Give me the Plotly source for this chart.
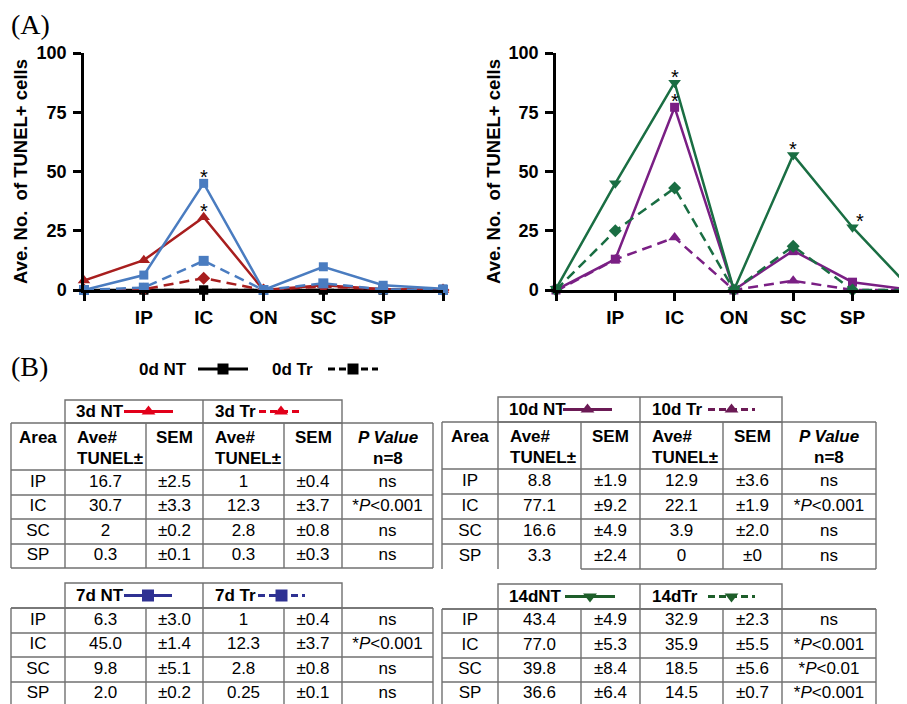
import plotly.graph_objects as go

W, H = 907, 704
OFF = 8  # page offset of the figure inside the browser window
SANS = "Liberation Sans, Arial, Helvetica, sans-serif"
SERIF = "Liberation Serif, Times New Roman, serif"

# ---------------- data : panel A ----------------
positions = [0, 1, 2, 3, 4, 5, 6]
area_ticks = ["", "IP", "IC", "ON", "SC", "SP", ""]

d0_nt = [0, 0, 0, 0, 0, 0, 0]
d0_tr = [0, 0, 0, 0, 0, 0, 0]
d3_nt = [4.0, 12.6, 30.7, 0.0, 2.0, 0.3, 0.0]
d3_tr = [0.0, 0.3, 5.0, 0.0, 1.5, 0.3, 0.0]
d7_nt = [0.0, 6.3, 45.0, 0.0, 9.8, 2.0, 0.5]
d7_tr = [0.0, 1.0, 12.3, 0.0, 2.8, 0.25, 0.0]
d10_nt = [0.0, 13.0, 77.1, 0.0, 16.6, 3.3, 0.0]
d10_tr = [-0.5, 12.9, 22.1, 0.0, 3.9, 0.0, 0.0]
d14_nt = [0.5, 45.0, 87.5, 0.0, 57.0, 26.5, 0.0]
d14_tr = [0.0, 25.0, 43.0, 0.0, 18.5, 0.0, 0.0]

star_left_x = [2, 2]
star_left_y = [45.0, 30.7]
star_right_x = [2, 2, 4, 5]
star_right_y = [87.5, 77.1, 57.0, 26.5]
star_right_dx = [0, 0, 0, 7]

y_ticks = [0, 25, 50, 75, 100]
y_title = "Ave. No.\u00a0\u00a0of TUNEL+ cells"

# ---------------- data : panel B ----------------
row_areas = ["IP", "IC", "SC", "SP"]
t3_nt_ave = ["16.7", "30.7", "2", "0.3"]
t3_nt_sem = ["2.5", "3.3", "0.2", "0.1"]
t3_tr_ave = ["1", "12.3", "2.8", "0.3"]
t3_tr_sem = ["0.4", "3.7", "0.8", "0.3"]
t3_p = ["ns", "*P<0.001", "ns", "ns"]

t7_nt_ave = ["6.3", "45.0", "9.8", "2.0"]
t7_nt_sem = ["3.0", "1.4", "5.1", "0.2"]
t7_tr_ave = ["1", "12.3", "2.8", "0.25"]
t7_tr_sem = ["0.4", "3.7", "0.8", "0.1"]
t7_p = ["ns", "*P<0.001", "ns", "ns"]

t10_nt_ave = ["8.8", "77.1", "16.6", "3.3"]
t10_nt_sem = ["1.9", "9.2", "4.9", "2.4"]
t10_tr_ave = ["12.9", "22.1", "3.9", "0"]
t10_tr_sem = ["3.6", "1.9", "2.0", "0"]
t10_p = ["ns", "*P<0.001", "ns", "ns"]

t14_nt_ave = ["43.4", "77.0", "39.8", "36.6"]
t14_nt_sem = ["4.9", "5.3", "8.4", "6.4"]
t14_tr_ave = ["32.9", "35.9", "18.5", "14.5"]
t14_tr_sem = ["2.3", "5.5", "5.6", "0.7"]
t14_p = ["ns", "*P<0.001", "*P<0.01", "*P<0.001"]

header_top = ["Area", "Ave#", "SEM", "Ave#", "SEM", "<i>P Value</i>"]
header_bottom = ["", "TUNEL±", "", "TUNEL±", "", "n=8"]

# ---------------- styles ----------------
RED = "#a81e1e"
BLUE = "#4a7cc0"
PURPLE = "#7a1f84"
GREEN = "#1a6e43"
LEG_RED = "#e2001a"
LEG_BLUE = "#2e3192"
LEG_PURPLE = "#6b1a55"
LEG_GREEN = "#1e5e2a"
GRID = "#707070"
DASH = "10px,6px"


def fx(x):  # screen px -> paper
    return (x - OFF) / W


def fy(y):
    return 1 - (y - OFF) / H


fig = go.Figure()


def add_series(vals, color, dash, symbol, size, xa, ya):
    fig.add_trace(go.Scatter(
        x=positions, y=vals, mode="lines+markers", xaxis=xa, yaxis=ya,
        line=dict(color=color, width=2.5, dash=dash),
        marker=dict(symbol=symbol, size=size, color=color),
        cliponaxis=False, hoverinfo="skip"))


# left panel
add_series(d0_nt, "black", "solid", "square", 9, "x", "y")
add_series(d0_tr, "black", DASH, "square", 9, "x", "y")
add_series(d3_tr, RED, DASH, "diamond", 10, "x", "y")
add_series(d3_nt, RED, "solid", "triangle-up", 11, "x", "y")
add_series(d7_tr, BLUE, DASH, "square", 10, "x", "y")
add_series(d7_nt, BLUE, "solid", "square", 9, "x", "y")
# right panel
add_series(d10_tr, PURPLE, DASH, "triangle-up", 11, "x2", "y2")
add_series(d10_nt, PURPLE, "solid", "square", 9, "x2", "y2")
add_series(d14_tr, GREEN, DASH, "diamond", 10, "x2", "y2")
add_series(d14_nt, GREEN, "solid", "triangle-down", 11, "x2", "y2")

annotations = []
for sx, sy in zip(star_left_x, star_left_y):
    annotations.append(dict(x=sx, y=sy, xref="x", yref="y", text="*", showarrow=False,
                            yshift=6, font=dict(family=SANS, size=20, color="black")))
for sx, sy, dx in zip(star_right_x, star_right_y, star_right_dx):
    annotations.append(dict(x=sx, y=sy, xref="x2", yref="y2", text="*", showarrow=False,
                            yshift=6, xshift=dx, font=dict(family=SANS, size=20, color="black")))


def txt(x, y, text, size=17, family=SANS, anchor="left", angle=0):
    annotations.append(dict(x=x, y=y, xref="x3", yref="y3", text=text, showarrow=False,
                            xanchor=anchor, yanchor="middle", textangle=angle,
                            font=dict(family=family, size=size, color="black")))


# axis titles, panel letters
txt(20, 172, "<b>" + y_title + "</b>", size=18.5, anchor="center", angle=-90)
txt(493, 172, "<b>" + y_title + "</b>", size=18.5, anchor="center", angle=-90)
txt(OFF + 0.5, 24, "(A)", size=28, family=SERIF)
txt(OFF + 0.5, 366, "(B)", size=28, family=SERIF)

shapes = []


def hline(x0, x1, y):
    shapes.append(dict(type="line", xref="x3", yref="y3", x0=x0, x1=x1, y0=y, y1=y,
                       line=dict(color=GRID, width=1.4)))


def vline(x, y0, y1):
    shapes.append(dict(type="line", xref="x3", yref="y3", x0=x, x1=x, y0=y0, y1=y1,
                       line=dict(color=GRID, width=1.4)))


def glyph(x0, x1, y, color, symbol, dashed, msize=11):
    xm = (x0 + x1) / 2
    fig.add_trace(go.Scatter(x=[x0, xm, x1], y=[y, y, y], mode="lines", xaxis="x3", yaxis="y3",
                             line=dict(color=color, width=3, dash="7px,4px" if dashed else "solid"),
                             hoverinfo="skip", cliponaxis=False))
    fig.add_trace(go.Scatter(x=[xm], y=[y], mode="markers", xaxis="x3", yaxis="y3",
                             marker=dict(symbol=symbol, size=msize, color=color),
                             hoverinfo="skip", cliponaxis=False))


# 0d legend row
txt(137, 369, "<b>0d NT</b>")
glyph(198, 248, 369, "black", "square", False)
txt(270, 369, "<b>0d Tr</b>")
glyph(328, 378, 369, "black", "square", True)


def fmt_p(vals):
    return [v.replace("P", "<i>P</i>").replace("<0", "&lt;0") for v in vals]


def fmt_sem(vals):
    return ["±" + v for v in vals]


def table(left, edges, leg_top, leg_bot, head, rows, cols, nt_lab, tr_lab, color, symbol,
          nt_glyph, tr_glyph, bottom_from=0):
    xs = [left + e for e in edges]
    # legend header box
    shapes.append(dict(type="rect", xref="x3", yref="y3", x0=xs[1], x1=xs[5], y0=leg_top, y1=leg_bot,
                       line=dict(color=GRID, width=1.4)))
    vline(xs[3], leg_top, leg_bot)
    yc = (leg_top + leg_bot) / 2
    txt(xs[1] + 9, yc, "<b>%s</b>" % nt_lab)
    glyph(nt_glyph[0], nt_glyph[1], yc, color, symbol, False, 12)
    txt(xs[3] + 10, yc, "<b>%s</b>" % tr_lab)
    glyph(tr_glyph[0], tr_glyph[1], yc, color, symbol, True, 12)
    # grid
    top = head[0] if head else rows[0]
    bottom = rows[-1]
    hline(xs[0], xs[-1], top)
    for r in rows[:-1]:
        hline(xs[0], xs[-1], r)
    hline(xs[bottom_from], xs[-1], rows[-1])
    for x in xs:
        vline(x, top, bottom)
    # header
    if head:
        y1 = head[0] + 14
        y2 = head[0] + 35
        for i, (a, b) in enumerate(zip(header_top, header_bottom)):
            if i in (1, 3):
                txt(xs[i] + 10, y1, "<b>%s</b>" % a)
                txt(xs[i] + 10, y2, "<b>%s</b>" % b)
            else:
                cx = (xs[i] + xs[i + 1]) / 2
                txt(cx, y1, "<b>%s</b>" % a, anchor="center")
                if b:
                    txt(cx, y2, "<b>%s</b>" % b, anchor="center")
    # body cells
    centers = [(rows[i] + rows[i + 1]) / 2 for i in range(len(rows) - 1)]
    for i, col in enumerate(cols):
        cx = (xs[i] + xs[i + 1]) / 2
        fig.add_trace(go.Scatter(x=[cx] * len(col), y=centers, text=col, mode="text",
                                 xaxis="x3", yaxis="y3", textposition="middle center",
                                 textfont=dict(family=SANS, size=17, color="black"),
                                 hoverinfo="skip", cliponaxis=False))


edges_l = [0, 54, 135, 192, 273, 331, 422]
edges_r = [0, 56, 139, 198, 281, 340, 434]

table(11, edges_l, 400, 423, (423, 470), [470, 495, 519, 544, 568],
      [row_areas, t3_nt_ave, fmt_sem(t3_nt_sem), t3_tr_ave, fmt_sem(t3_tr_sem), fmt_p(t3_p)],
      "3d NT", "3d Tr", LEG_RED, "triangle-up", (124, 173), (259, 303))
table(11, edges_l, 583, 608, None, [608, 633, 657, 682, 706],
      [row_areas, t7_nt_ave, fmt_sem(t7_nt_sem), t7_tr_ave, fmt_sem(t7_tr_sem), fmt_p(t7_p)],
      "7d NT", "7d Tr", LEG_BLUE, "square", (124, 172), (258, 305))
table(442, edges_r, 397, 422, (422, 469), [469, 494, 519, 544, 569],
      [row_areas, t10_nt_ave, fmt_sem(t10_nt_sem), t10_tr_ave, fmt_sem(t10_tr_sem), fmt_p(t10_p)],
      "10d NT", "10d Tr", LEG_PURPLE, "triangle-up", (563, 612), (708, 755), bottom_from=2)
table(442, edges_r, 584, 609, None, [609, 633, 658, 682, 706],
      [row_areas, t14_nt_ave, fmt_sem(t14_nt_sem), t14_tr_ave, fmt_sem(t14_tr_sem), fmt_p(t14_p)],
      "14dNT", "14dTr", LEG_GREEN, "triangle-down", (565, 615), (708, 755))

axis_common = dict(showline=True, linecolor="black", linewidth=2.5, ticks="outside", ticklen=8,
                   tickwidth=2.5, tickcolor="black", showgrid=False, zeroline=False, automargin=False,
                   fixedrange=True, tickfont=dict(family=SANS, size=18, color="black", weight="bold"))
xfont = dict(family=SANS, size=19, color="black", weight="bold")
step_r = 59.3

fig.update_layout(
    template="none",
    width=W, height=H, margin=dict(l=0, r=0, t=0, b=0, pad=0), autosize=False,
    paper_bgcolor="white", plot_bgcolor="rgba(0,0,0,0)", showlegend=False,
    xaxis=dict(domain=[fx(84), fx(443)], range=[0, 6], tickvals=positions, ticktext=area_ticks,
               anchor="y", **{**axis_common, "tickfont": xfont}),
    yaxis=dict(domain=[fy(290), fy(53)], range=[0, 100], tickvals=y_ticks, anchor="x",
               ticklabelstandoff=3, **axis_common),
    xaxis2=dict(domain=[fx(556), fx(556 + 6 * step_r)], range=[0, 6], tickvals=positions,
                ticktext=area_ticks, anchor="y2", **{**axis_common, "tickfont": xfont}),
    yaxis2=dict(domain=[fy(290), fy(53)], range=[0, 100], tickvals=y_ticks, anchor="x2",
                ticklabelstandoff=3, **axis_common),
    xaxis3=dict(domain=[0, 1], range=[OFF, OFF + W], visible=False, fixedrange=True, anchor="y3",
                automargin=False),
    yaxis3=dict(domain=[0, 1], range=[OFF + H, OFF], visible=False, fixedrange=True, anchor="x3",
                automargin=False),
    annotations=annotations, shapes=shapes,
)

fig.write_html("out.html")
